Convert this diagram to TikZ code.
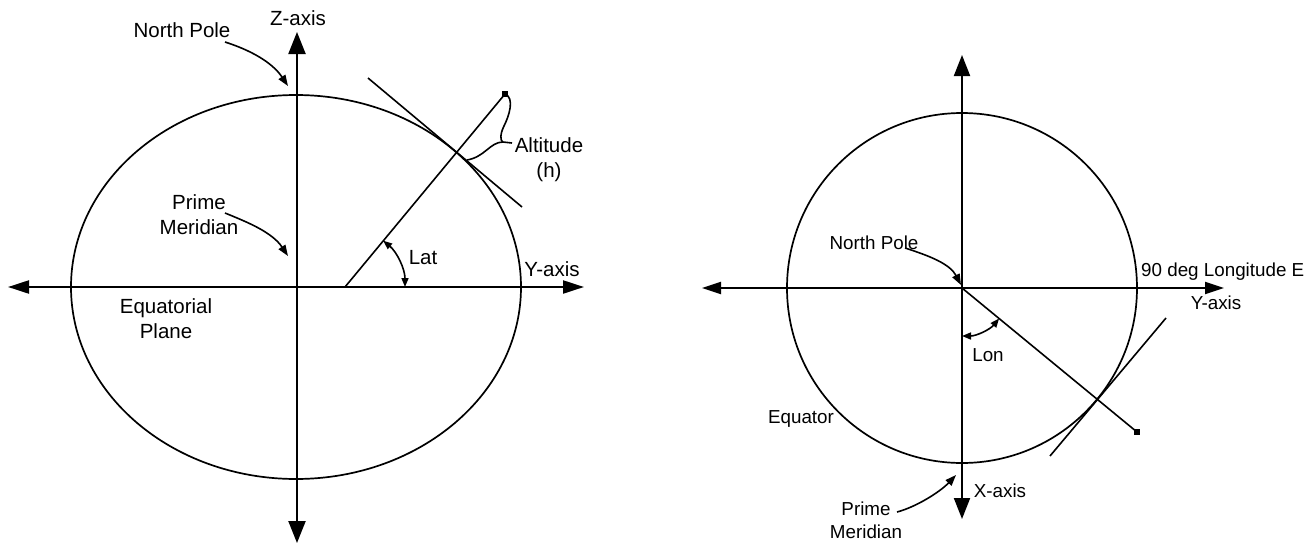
\documentclass[tikz,border=0pt]{standalone}
\usepackage{fontspec}
\setmainfont{Liberation Sans}
\usetikzlibrary{arrows.meta}
\begin{document}
\begin{tikzpicture}[x=1pt,y=-1pt,
  lfont/.style={font=\fontsize{20.5}{25}\selectfont, inner sep=0pt, align=center},
  rfont/.style={font=\fontsize{18.8}{23}\selectfont, inner sep=0pt, align=center},
  ax/.style={line width=2.2pt},
  hax/.style={ax, {Triangle[length=21pt,width=13pt]}-{Triangle[length=21pt,width=13pt]}},
  vax/.style={ax, {Triangle[length=22pt,width=17pt]}-{Triangle[length=22pt,width=17pt]}},
  rhax/.style={line width=2pt, {Triangle[length=19pt,width=12pt]}-{Triangle[length=19pt,width=12pt]}},
  rvax/.style={line width=2pt, {Triangle[length=21pt,width=16pt]}-{Triangle[length=21pt,width=16pt]}},
  earth/.style={line width=1.7pt},
  thinl/.style={line width=1.6pt},
  pointer/.style={line width=1.6pt, -{Triangle[length=11pt,width=8pt]}},
  angarr/.style={line width=1.6pt, {Triangle[length=9pt,width=7pt]}-{Triangle[length=9pt,width=7pt]}},
  dotmark/.style={fill, rectangle, minimum size=6pt, inner sep=0pt}
]
\useasboundingbox (0,0) rectangle (1310,544);

% ===================== LEFT DIAGRAM =====================
\coordinate (LC) at (297,287);
\coordinate (Lw) at (8,287);
\coordinate (Le) at (584,287);
\coordinate (Ln) at (297,32);
\coordinate (Ls) at (297,543);
\draw[earth] (296,287) ellipse [x radius=225, y radius=192];
\draw[hax] (Lw) -- (Le);
\draw[vax] (Ls) -- (Ln);

% latitude line, tangent, point
\coordinate (latO) at (345,287);
\node[dotmark] (Lpt) at (505,94) {};
\draw[thinl] (latO) -- (Lpt.center);
\coordinate (Ltan1) at (368,78);
\coordinate (Ltan2) at (522,207);
\draw[thinl] (Ltan1) -- (Ltan2);

% Lat angle
\path (latO) ++(-50.5:60) coordinate (lat1);
\draw[angarr] (lat1) arc[start angle=-50.5, end angle=0, radius=60];

% Altitude brace
\coordinate (altTip) at (512,143);
\coordinate (altMid) at (503,142);
\coordinate (altBot) at (467,160);
\draw[thinl] (Lpt.center) .. controls (515,98) and (509,116) .. (504,126)
   .. controls (500,134) and (500,141) .. (altMid) -- (altTip);
\draw[thinl] (altMid) .. controls (490,142) and (485,157) .. (altBot);

% labels
\node[lfont] (zlab) at (298,18) {Z-axis};
\node[lfont] (nplab) at (182,30) {North Pole};
\node[lfont] (pmlab) at (199,215) {Prime\\Meridian};
\node[lfont] (eqlab) at (166,319) {Equatorial\\Plane};
\node[lfont] (altlab) at (549,160) {Altitude\\(h)};
\node[lfont] (latlab) at (423,258) {Lat};
\node[lfont] (ylab) at (552,269) {Y-axis};

% pointers
\coordinate (npS) at (225,42);
\coordinate (npT) at (288,86);
\draw[pointer] (npS) .. controls (250,50) and (272,62) .. (npT);
\coordinate (pmS) at (225,213);
\coordinate (pmT) at (288,256);
\draw[pointer] (pmS) .. controls (247,222) and (272,232) .. (pmT);

% ===================== RIGHT DIAGRAM =====================
\coordinate (RC) at (962,288);
\coordinate (Rw) at (702,288);
\coordinate (Re) at (1224,288);
\coordinate (Rn) at (962,55);
\coordinate (Rs) at (962,519);
\draw[earth] (RC) circle [radius=175];
\draw[rhax] (Rw) -- (Re);
\draw[rvax] (Rn) -- (Rs);

\node[dotmark] (Rpt) at (1137,432) {};
\draw[thinl] (RC) -- (Rpt.center);
\coordinate (Rtan1) at (1166,318);
\coordinate (Rtan2) at (1050,456);
\draw[thinl] (Rtan1) -- (Rtan2);

% Lon angle
\path (RC) ++(90:48) coordinate (lon1);
\draw[angarr] (lon1) arc[start angle=90, end angle=39.4, radius=48];

% labels
\node[rfont] (rnplab) at (874,243) {North Pole};
\node[rfont, anchor=west] (lonElab) at (1141,272) {90 deg Longitude E};
\node[rfont] (rylab) at (1216,303) {Y-axis};
\node[rfont] (lonlab) at (988,355) {Lon};
\node[rfont] (equlab) at (801,419) {Equator};
\node[rfont] (xlab) at (1000,491) {X-axis};
\node[rfont] (rpmlab) at (866,520) {Prime\\Meridian};

% pointers
\coordinate (rnpS) at (905,248);
\coordinate (rnpT) at (961,285);
\draw[pointer] (rnpS) .. controls (930,256) and (950,264) .. (rnpT);
\coordinate (rpmS) at (897,512);
\coordinate (rpmT) at (956,475);
\draw[pointer] (rpmS) .. controls (916,507) and (940,492) .. (rpmT);
\end{tikzpicture}
\end{document}
